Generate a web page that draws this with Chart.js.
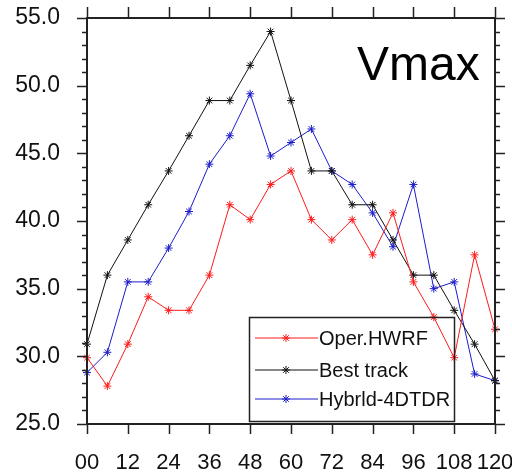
<!DOCTYPE html>
<html>
<head>
<meta charset="utf-8">
<script src="https://cdn.jsdelivr.net/npm/chart.js@4.4.0/dist/chart.umd.min.js"></script>
<style>
  html, body { margin: 0; padding: 0; background: #fff; }
</style>
</head>
<body>
<canvas id="myChart" width="512" height="473"></canvas>
<script>
// forecast hour
const hours = [0, 6, 12, 18, 24, 30, 36, 42, 48, 54, 60, 66, 72, 78, 84, 90, 96, 102, 108, 114, 120];

// Vmax (m/s) per experiment
const operHwrf = [29.9, 27.8, 30.9, 34.4, 33.4, 33.4, 36.0, 41.2, 40.1, 42.7, 43.7, 40.1, 38.6, 40.1, 37.5, 40.6, 35.5, 32.9, 29.9, 37.5, 32.0];
const bestTrack = [30.9, 36.0, 38.6, 41.2, 43.7, 46.3, 48.9, 48.9, 51.5, 54.0, 48.9, 43.7, 43.7, 41.2, 41.2, 38.6, 36.0, 36.0, 33.4, 30.9, 28.2];
const hybrid = [28.8, 30.3, 35.5, 35.5, 38.0, 40.7, 44.2, 46.3, 49.4, 44.8, 45.8, 46.8, 43.7, 42.7, 40.6, 38.1, 42.7, 35.0, 35.5, 28.7, 28.2];

const xTicks = [0, 12, 24, 36, 48, 60, 72, 84, 96, 108, 120];
const yTicks = [25, 30, 35, 40, 45, 50, 55];

const FONT = '"Liberation Sans", Arial, Helvetica, sans-serif';

function pts(vals) {
  return hours.map((h, i) => ({ x: h, y: vals[i] }));
}

function ds(label, vals, color) {
  return {
    label: label,
    data: pts(vals),
    borderColor: color,
    backgroundColor: color,
    borderWidth: 1,
    pointStyle: 'star',
    pointRadius: 4,
    pointBorderWidth: 1,
    pointBorderColor: color,
    tension: 0,
    clip: false
  };
}

// box, tick marks, legend and title
const framePlugin = {
  id: 'frame',
  afterDraw(chart) {
    const ctx = chart.ctx;
    const a = chart.chartArea;
    const xs = chart.scales.x, ys = chart.scales.y;
    ctx.save();
    ctx.strokeStyle = '#222';
    ctx.lineWidth = 2;
    ctx.strokeRect(a.left, a.top, a.right - a.left, a.bottom - a.top);

    ctx.lineWidth = 1.5;
    ctx.beginPath();
    for (let v = ys.min; v <= ys.max; v++) {
      const y = Math.round(ys.getPixelForValue(v)) + 0.5;
      const len = v % 5 === 0 ? 10 : 5;
      ctx.moveTo(a.left - len, y); ctx.lineTo(a.left, y);
      ctx.moveTo(a.right, y); ctx.lineTo(a.right + len, y);
    }
    xTicks.forEach(v => {
      const x = Math.round(xs.getPixelForValue(v)) + 0.5;
      ctx.moveTo(x, a.bottom); ctx.lineTo(x, a.bottom + 10);
      ctx.moveTo(x, a.top); ctx.lineTo(x, a.top - 11);
    });
    ctx.stroke();

    // title
    ctx.fillStyle = '#000';
    ctx.font = '48px ' + FONT;
    ctx.textAlign = 'left';
    ctx.textBaseline = 'alphabetic';
    ctx.fillText('Vmax', 357, 80);

    // legend
    ctx.strokeStyle = '#222';
    ctx.lineWidth = 1.5;
    ctx.strokeRect(249.5, 317.5, 205, 104);
    const rows = [338, 370, 399];
    ctx.font = '20px ' + FONT;
    ctx.textBaseline = 'middle';
    chart.data.datasets.forEach((d, i) => {
      const y = rows[i];
      ctx.strokeStyle = d.borderColor;
      ctx.lineWidth = 1;
      ctx.beginPath();
      ctx.moveTo(255, y); ctx.lineTo(318, y);
      // asterisk marker
      const r = 4, c = 286;
      ctx.moveTo(c - r, y); ctx.lineTo(c + r, y);
      ctx.moveTo(c, y - r); ctx.lineTo(c, y + r);
      ctx.moveTo(c - r * 0.7, y - r * 0.7); ctx.lineTo(c + r * 0.7, y + r * 0.7);
      ctx.moveTo(c - r * 0.7, y + r * 0.7); ctx.lineTo(c + r * 0.7, y - r * 0.7);
      ctx.stroke();
      ctx.fillStyle = '#111';
      ctx.fillText(d.label, 319, y + 1);
    });
    ctx.restore();
  }
};

const ctx = document.getElementById('myChart').getContext('2d');
const myChart = new Chart(ctx, {
  type: 'line',
  data: {
    datasets: [
      ds('Oper.HWRF', operHwrf, '#ff1a1a'),
      ds('Best track', bestTrack, '#111111'),
      ds('Hybrld-4DTDR', hybrid, '#1c1cc8')
    ]
  },
  options: {
    responsive: false,
    animation: false,
    events: [],
    layout: { padding: { top: 18, right: 17, left: 0, bottom: 0 } },
    plugins: {
      legend: { display: false },
      tooltip: { enabled: false }
    },
    scales: {
      x: {
        type: 'linear',
        min: 0,
        max: 120,
        afterBuildTicks: s => { s.ticks = xTicks.map(v => ({ value: v })); },
        afterFit: s => { s.height = 49; s.paddingLeft = 0; s.paddingRight = 0; },
        grid: { display: false, drawTicks: false },
        border: { display: false },
        ticks: {
          autoSkip: false,
          maxRotation: 0,
          minRotation: 0,
          padding: 26,
          color: '#111',
          font: { family: FONT, size: 22 },
          callback: v => String(v).padStart(2, '0')
        }
      },
      y: {
        min: 25,
        max: 55,
        afterBuildTicks: s => { s.ticks = yTicks.map(v => ({ value: v })); },
        afterFit: s => { s.width = 87; s.paddingTop = 0; s.paddingBottom = 0; },
        grid: { display: false, drawTicks: false },
        border: { display: false },
        ticks: {
          padding: 27,
          color: '#111',
          font: { family: FONT, size: 23 },
          callback: v => v.toFixed(1)
        }
      }
    }
  },
  plugins: [framePlugin]
});
</script>
</body>
</html>
